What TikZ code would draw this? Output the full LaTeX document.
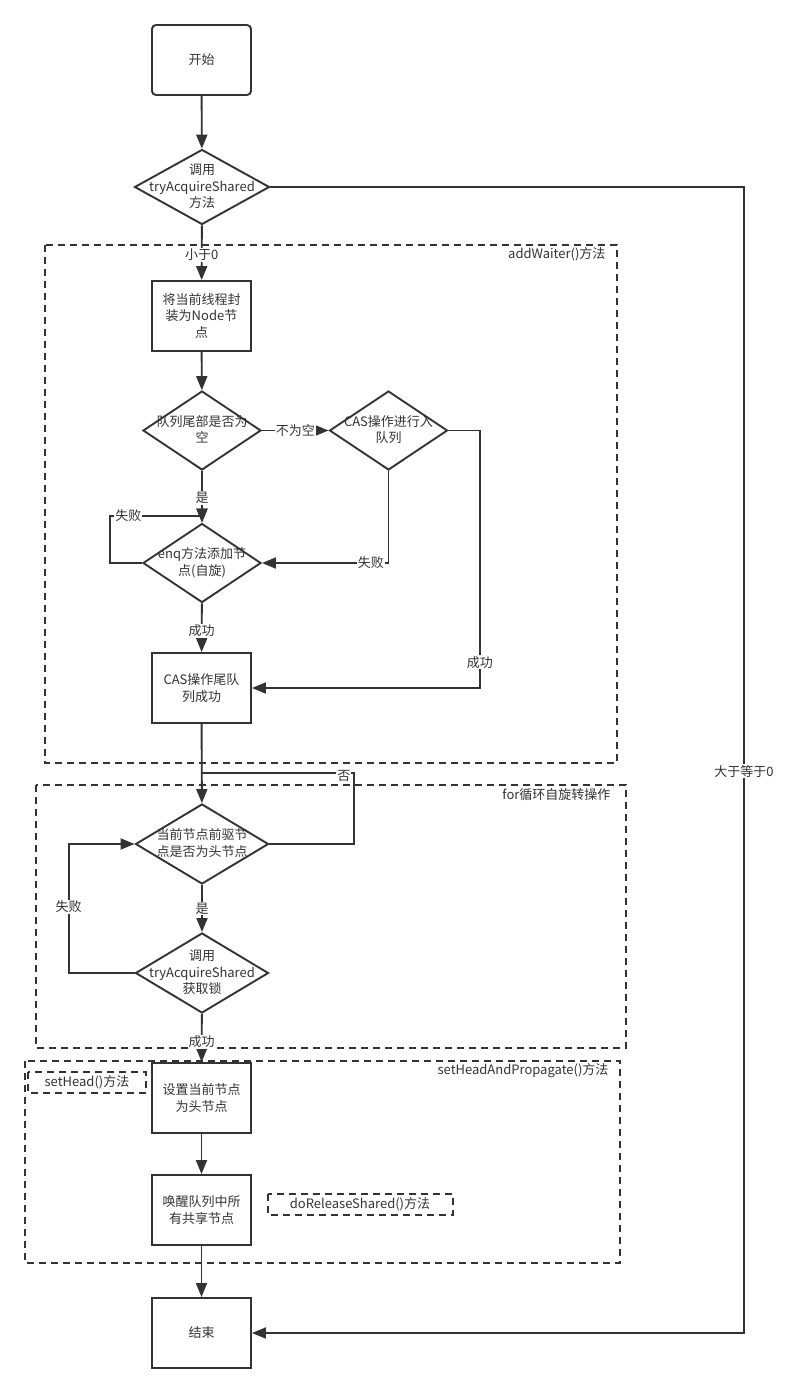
\documentclass[tikz,border=0pt]{standalone}
\usepackage{fontspec}
\setmainfont{Noto Sans CJK SC}
\usetikzlibrary{shapes.geometric,arrows.meta}
\definecolor{ink}{HTML}{333333}
\newcommand{\dtext}[1]{\smash{\makebox[0pt]{\raisebox{-.3em}{\begin{tabular}{@{}c@{}}#1\end{tabular}}}}}

\begin{document}
\begin{tikzpicture}[
    x=1pt, y=-1pt,
    every node/.style={font=\fontsize{13}{16.5}\selectfont, text=ink},
    line/.style={draw=ink, line width=1.9pt},
    arr/.style={line, -{Triangle[length=14pt,width=11pt]}},
    box/.style={line, rectangle, minimum width=99pt, minimum height=70pt, align=center, inner sep=0pt},
    dec/.style={line, diamond, inner sep=0pt, minimum width=118pt, minimum height=79pt},
    region/.style={draw=ink, line width=1.9pt, dash pattern=on 7pt off 5pt},
    lab/.style={fill=white, inner sep=1pt}
]
\useasboundingbox (0,0) rectangle (788,1393);

\draw[region] (45,245) rectangle (617,763);
\node[anchor=east] (addwaitertitle) at (609,254) {addWaiter()方法};
\draw[region] (36,785) rectangle (626,1048);
\node[anchor=east] (fortitle) at (614,795) {for循环自旋转操作};
\draw[region] (25,1061) rectangle (620,1263);
\node[anchor=east] (propagatetitle) at (612,1071) {setHeadAndPropagate()方法};
\draw[region] (28,1072) rectangle (146,1093);
\node (setheadtitle) at (87,1082) {setHead()方法};
\draw[region] (268,1194) rectangle (453,1215);
\node (releasetitle) at (360,1204) {doReleaseShared()方法};

\node[box, rounded corners=4pt] (start) at (201.5,60) {开始};
\node[dec, minimum width=135pt, minimum height=75pt] (acquire) at (202,187) {\dtext{调用\\tryAcquireShared\\方法}};
\node[box] (wrap) at (201.5,316) {将当前线程封\\装为Node节\\点};
\node[dec] (tailnull) at (202,430.5) {\dtext{队列尾部是否为\\空}};
\node[dec] (casenq) at (388.5,430.5) {\dtext{CAS操作进行入\\队列}};
\node[dec] (enq) at (202,563) {\dtext{enq方法添加节\\点(自旋)}};
\node[box] (castail) at (201.5,688) {CAS操作尾队\\列成功};
\node[dec, minimum width=133pt, minimum height=80pt] (predhead) at (202,844) {\dtext{当前节点前驱节\\点是否为头节点}};
\node[dec, minimum width=133pt, minimum height=80pt] (tryget) at (202,973) {\dtext{调用\\tryAcquireShared\\获取锁}};
\node[box] (sethead) at (201.5,1098) {设置当前节点\\为头节点};
\node[box] (wakeall) at (201.5,1210) {唤醒队列中所\\有共享节点};
\node[box] (finish) at (201.5,1333) {结束};
\coordinate (backin) at (202,773);

\draw[arr] (start) -- (acquire);
\draw[arr] (acquire) -- node[lab, pos=.54] {小于0} (wrap);
\draw[arr] (acquire.east) -- ++(473.5,0) |- node[lab, pos=.255] {大于等于0} (finish.east);
\draw[arr] (wrap) -- (tailnull);
\draw[arr] (tailnull) -- node[lab] {不为空} (casenq);
\draw[arr] (tailnull) -- node[lab, pos=.52] {是} (enq);
\draw[arr] (enq.west) -- ++(-32,0) |- node[lab, pos=.6] {失败} ([yshift=7pt]enq.north) -- (enq.north);
\draw[arr] (casenq.south) |- node[lab, pos=.57] {失败} (enq.east);
\draw[arr] (casenq.east) -- ++(31.5,0) |- node[lab, pos=.45] {成功} (castail.east);
\draw[arr] (enq) -- node[lab, pos=.56] {成功} (castail);
\draw[arr] (castail) -- (predhead);
\draw[line] (predhead.east) -- ++(84.5,0) |- node[lab, pos=.533, yshift=-3pt] {否} (backin);
\draw[arr] (predhead) -- node[lab] {是} (tryget);
\draw[arr] (tryget.west) -- ++(-66,0) |- node[lab, pos=.256] {失败} (predhead.west);
\draw[arr] (tryget) -- node[lab, pos=.58] {成功} (sethead);
\draw[arr] (sethead) -- (wakeall);
\draw[arr] (wakeall) -- (finish);
\end{tikzpicture}
\end{document}
